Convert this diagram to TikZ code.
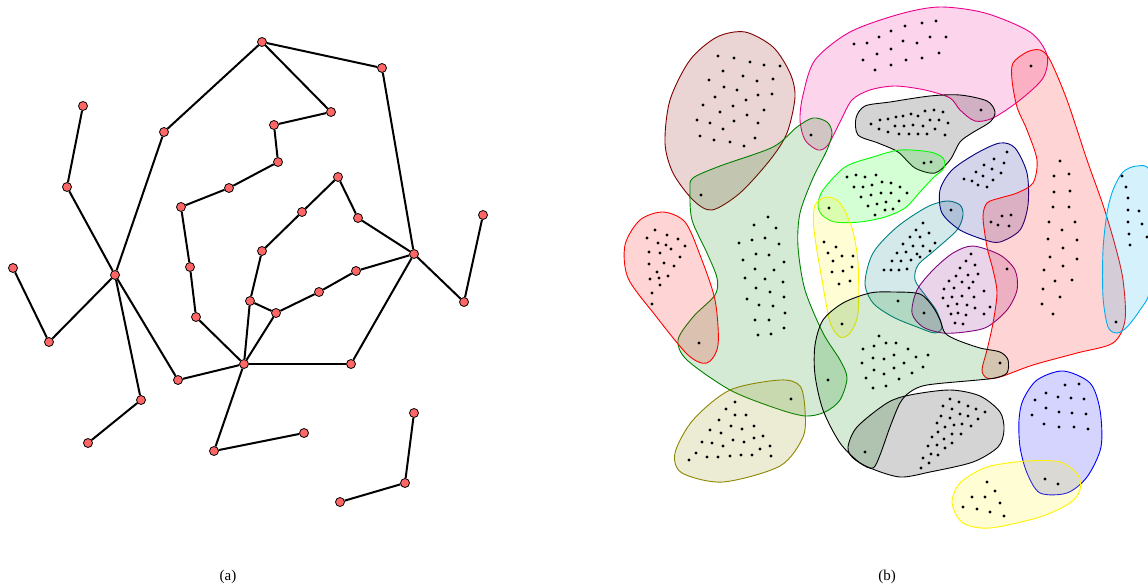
\documentclass[tikz,border=0pt]{standalone}
\usepackage{fontspec}
\setmainfont{Liberation Serif}

\definecolor{vtxred}{RGB}{255,102,102}
\definecolor{hmaroon}{RGB}{128,0,0}
\definecolor{hgreen}{RGB}{0,128,0}
\definecolor{hnavy}{RGB}{0,0,128}
\definecolor{hpurple}{RGB}{128,0,128}

\tikzset{
  vtx/.style={circle, draw=black, fill=vtxred, line width=0.8pt, inner sep=0pt, minimum size=9pt},
  edge/.style={line width=2pt},
  blob/.style={draw=#1, fill=#1, fill opacity=0.17, line width=0.9pt},
}

\begin{document}
\begin{tikzpicture}[x=1pt, y=-1pt]

  \useasboundingbox (0,0) rectangle (1148,588);

  % (a) the graph
  \foreach \n/\x/\y in {1/262/42, 2/382/68, 3/331/112, 4/274/125, 5/278/162,
      6/229/188, 7/181/207, 8/164/132, 9/83/106, 10/67/187, 11/115/275,
      12/13/268, 13/49/342, 14/141/400, 15/88/443, 16/178/380, 17/244/364,
      18/190/267, 19/196/317, 20/250/301, 21/276/313, 22/319/292, 23/356/271,
      24/414/254, 25/464/302, 26/483/215, 27/358/218, 28/338/177, 29/302/212,
      30/262/251, 31/351/364, 32/214/451, 33/304/433, 34/414/413, 35/405/483,
      36/340/502}
    \node[vtx] (v\n) at (\x,\y) {};

  \foreach \a/\b in {1/2, 1/3, 1/8, 3/4, 4/5, 5/6, 6/7, 7/18, 18/19, 19/17,
      8/11, 9/10, 10/11, 11/13, 12/13, 11/14, 14/15, 11/16, 16/17, 17/20,
      17/21, 20/21, 20/30, 30/29, 29/28, 28/27, 27/24, 2/24, 21/22, 22/23,
      23/24, 24/25, 25/26, 24/31, 31/17, 17/32, 32/33, 34/35, 35/36}
    \draw[edge] (v\a) -- (v\b);

  \node (capa) at (228,577) {\fontsize{15}{17}\selectfont (a)};

  % (b) the hyperedges
  \draw[blob=hmaroon] plot[smooth cycle] coordinates {
    (745,32) (773,47) (790,73) (795,97) (787,133) (770,160) (740,193)
    (712,210) (693,200) (673,173) (665,143) (670,100) (690,60) (717,37)};
  \draw[blob=magenta] plot[smooth cycle] coordinates {
    (818,150) (805,140) (800,120) (803,95) (815,60) (850,32) (900,14) (940,7)
    (985,13) (1030,32) (1047,55) (1043,78) (1020,100) (993,118) (975,121)
    (960,110) (950,98) (925,90) (895,86) (870,90) (852,100) (840,122) (828,145)};
  \draw[blob=black] plot[smooth cycle] coordinates {
    (858,135) (856,118) (865,106) (890,102) (930,96) (960,95) (987,101)
    (995,112) (990,122) (972,133) (960,142) (950,160) (935,173) (915,168)
    (898,152) (878,143)};
  \draw[blob=green] plot[smooth cycle] coordinates {
    (818,205) (823,190) (845,167) (873,157) (900,150) (930,152) (943,158)
    (944,168) (933,178) (920,192) (905,208) (885,217) (860,222) (835,222) (822,215)};
  \draw[blob=yellow] plot[smooth cycle] coordinates {
    (827,197) (840,203) (852,228) (858,263) (858,313) (850,333) (840,337)
    (830,322) (822,280) (814,230) (815,205)};
  \draw[blob=hgreen] plot[smooth cycle] coordinates {
    (690,190) (693,178) (720,166) (773,147) (797,127) (813,118) (827,122)
    (832,133) (827,150) (813,178) (800,213) (798,247) (805,290) (823,333)
    (840,360) (847,378) (840,400) (825,412) (805,416) (775,408) (730,390)
    (687,360) (678,340) (693,317) (715,295) (717,278) (707,253) (692,220)};
  \draw[blob=red] plot[smooth cycle] coordinates {
    (663,212) (685,222) (700,255) (715,300) (718,345) (707,363) (688,355)
    (655,315) (628,278) (625,245) (640,220)};
  \draw[blob=olive] plot[smooth cycle] coordinates {
    (730,390) (780,380) (800,386) (805,410) (803,437) (780,466) (723,482)
    (682,473) (675,453) (693,420)};
  \draw[blob=teal] plot[smooth cycle] coordinates {
    (947,201) (960,205) (963,215) (957,230) (935,250) (918,265) (915,280)
    (925,295) (936,310) (942,327) (935,333) (917,327) (893,317) (873,303)
    (865,283) (873,253) (897,227) (927,207)};
  \draw[blob=hnavy] plot[smooth cycle] coordinates {
    (1000,143) (1015,148) (1027,173) (1028,205) (1020,230) (1000,242)
    (985,240) (960,230) (942,213) (940,190) (952,170) (977,153)};
  \draw[blob=hpurple] plot[smooth cycle] coordinates {
    (973,246) (1000,255) (1015,270) (1017,290) (1007,310) (987,327) (965,332)
    (943,333) (923,327) (912,313) (917,290) (933,270) (953,253)};
  \draw[blob=red] plot[smooth cycle] coordinates {
    (1027,52) (1040,50) (1050,60) (1067,100) (1087,160) (1103,205) (1115,245)
    (1123,280) (1125,320) (1113,343) (1077,353) (1033,365) (1000,377)
    (987,378) (982,370) (987,350) (993,323) (997,293) (993,270) (987,247)
    (983,217) (987,203) (1000,198) (1017,193) (1033,183) (1037,160)
    (1027,130) (1017,107) (1012,80) (1013,63)};
  \draw[blob=cyan] plot[smooth cycle] coordinates {
    (1123,172) (1137,166) (1150,172) (1155,230) (1150,290) (1140,310)
    (1127,327) (1117,333) (1108,327) (1103,297) (1103,250) (1107,213) (1113,190)};
  \draw[blob=hgreen, draw=black] plot[smooth cycle] coordinates {
    (815,345) (823,320) (843,303) (870,293) (893,292) (920,294) (933,307)
    (940,320) (945,333) (957,340) (980,348) (1000,352) (1008,360) (1007,373)
    (995,378) (978,380) (927,385) (910,392) (900,403) (890,427) (880,455)
    (873,468) (860,463) (840,443) (823,410) (815,375)};
  \draw[blob=black] plot[smooth cycle] coordinates {
    (848,447) (857,427) (887,403) (910,395) (950,390) (980,396) (1000,412)
    (1004,430) (998,447) (973,462) (930,472) (900,477) (870,468) (853,458)};
  \draw[blob=blue] plot[smooth cycle] coordinates {
    (1063,371) (1090,383) (1100,410) (1101,447) (1087,477) (1067,493)
    (1040,493) (1027,473) (1020,447) (1019,420) (1023,400) (1037,380)};
  \draw[blob=yellow] plot[smooth cycle] coordinates {
    (1027,461) (1060,462) (1078,475) (1080,490) (1070,503) (1040,517)
    (990,528) (963,523) (952,503) (960,483) (987,467)};

  % vertices of the hypergraph
  \foreach \x/\y in {
      718/56, 734/58, 750/62, 764/65, 780/66, 723/71, 743/76, 757/81, 773/79,
      709/80, 724/87, 737/90, 758/95, 772/94, 715/97, 746/100, 703/105,
      733/106, 764/110, 720/112, 747/115, 697/120, 710/123, 734/121, 758/123,
      723/129, 700/136, 714/140, 730/142, 744/146, 755/138, 701/195,
      854/44, 867/43, 879/37, 891/31, 905/26, 922/23, 936/21, 863/60, 877/54,
      891/49, 903/41, 917/43, 930/37, 946/37, 875/70, 891/65, 906/60, 922/58,
      939/53, 811/135, 1031/66,
      871/124, 880/120, 888/119, 896/117, 903/116, 911/114, 918/116, 925/111,
      934/110, 943/112, 930/120, 939/120, 948/123, 879/129, 888/132, 895/126,
      904/126, 913/125, 923/126, 935/129, 899/134, 909/134, 918/134, 927/134,
      945/135, 981/110, 924/163, 931/162,
      847/177, 856/175, 865/177, 876/175, 854/187, 863/187, 872/185, 882/182,
      891/183, 900/187, 861/197, 871/195, 881/193, 891/193, 907/193, 868/206,
      877/204, 886/202, 899/201, 875/215, 885/210, 893/209, 829/208,
      824/242, 836/247, 828/253, 833/261, 842/256, 853/256, 832/272, 843/271,
      852/267, 839/284, 850/281, 842/324,
      768/217, 754/225, 776/228, 739/243, 752/240, 765/238, 779/244, 743/260,
      756/254, 769/255, 784/262, 755/269, 774/270, 745/278, 765/279, 783/282,
      756/288, 770/292, 747/299, 784/297, 759/305, 773/306, 785/313, 755/320,
      769/320, 784/328, 758/335, 771/334, 699/343, 828/380, 791/399,
      655/230, 647/238, 667/235, 678/239, 658/243, 666/245, 671/249, 685/246,
      649/252, 660/253, 680/257, 649/264, 664/263, 674/266, 657/272, 650/279,
      659/278, 668/276, 660/285, 652/293, 652/304,
      735/402, 726/409, 735/415, 746/415, 719/420, 731/426, 742/429, 754/426,
      710/430, 721/433, 733/440, 744/442, 754/438, 763/436, 702/442, 712/443,
      723/446, 760/449, 770/446, 696/453, 689/460, 707/457, 718/457, 730/456,
      741/455, 752/455, 771/456,
      923/223, 916/230, 929/233, 910/237, 920/237, 903/244, 913/246, 923/246,
      935/243, 897/253, 906/252, 917/254, 930/251, 892/261, 901/261, 911/260,
      920/257, 884/270, 891/270, 899/270, 907/269, 951/210, 898/301, 924/313,
      1007/152, 994/159, 1004/163, 984/165, 992/169, 976/172, 1001/173,
      983/176, 964/179, 972/181, 978/185, 987/187, 993/180, 1002/216,
      1011/215, 991/222, 998/225, 1009/226,
      971/254, 966/261, 975/265, 960/268, 956/276, 968/275, 978/274, 949/281,
      962/282, 973/282, 944/289, 954/288, 969/288, 984/291, 943/298, 952/297,
      962/296, 974/297, 948/306, 957/304, 967/305, 975/308, 990/307, 951/314,
      958/313, 966/315, 984/314, 955/323, 963/324, 1007/269,
      1060/161, 1054/176, 1069/174, 1054/192, 1070/191, 1053/207, 1069/207,
      1049/222, 1075/222, 1062/230, 1048/239, 1077/240, 1063/248, 1050/257,
      1077/259, 1063/266, 1044/270, 1072/280, 1055/281, 1043/289, 1060/297,
      1042/304, 1053/314, 1000/363,
      1122/176, 1126/187, 1128/198, 1128/210, 1139/211, 1128/222, 1142/224,
      1129/234, 1147/237, 1130/245, 1116/322,
      879/336, 874/346, 886/343, 896/343, 908/349, 863/349, 873/358, 884/359,
      894/355, 904/363, 916/357, 928/355, 923/367, 862/363, 874/370, 884/374,
      894/368, 912/373, 866/378, 899/379, 873/388, 886/386, 865/452,
      950/399, 959/402, 943/406, 952/409, 968/406, 976/409, 985/412, 941/416,
      950/418, 960/414, 968/416, 978/419, 937/423, 945/427, 954/425, 962/424,
      971/426, 938/432, 952/434, 961/434, 932/437, 944/439, 928/446, 937/445,
      945/448, 952/443, 923/458, 931/454, 938/455, 929/463, 921/468,
      1065/385, 1079/384, 1046/393, 1058/397, 1071/398, 1084/399, 1035/400,
      1046/408, 1059/412, 1072/413, 1086/414, 1032/415, 1044/424, 1059/427,
      1074/427, 1088/429, 1045/479, 1058/484,
      987/482, 995/491, 972/497, 985/497, 1000/503, 963/507, 977/509,
      990/512, 1004/516}
    \fill (\x,\y) circle (1.7pt);

  \node (capb) at (887,577) {\fontsize{15}{17}\selectfont (b)};

\end{tikzpicture}
\end{document}
